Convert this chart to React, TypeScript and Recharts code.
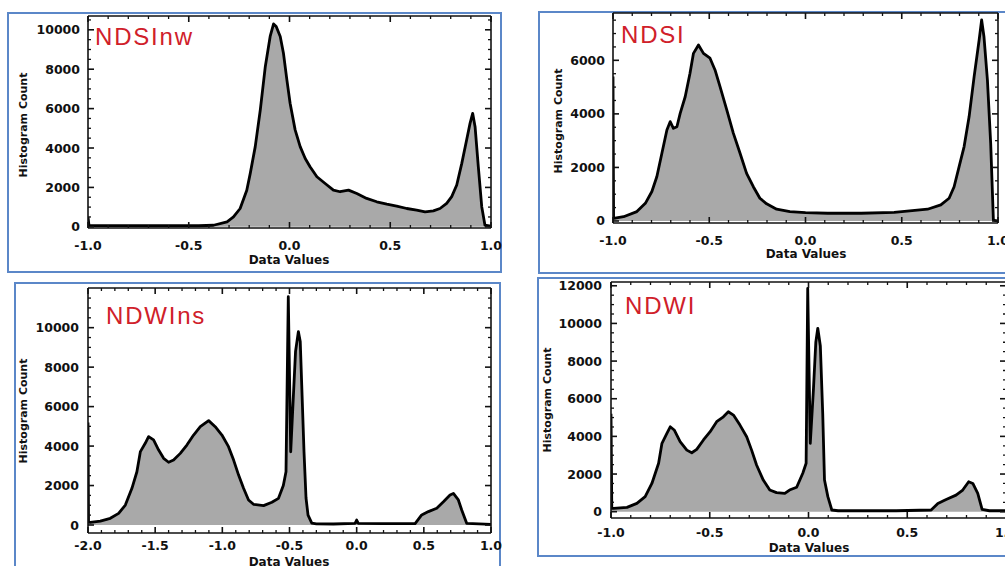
import React from 'react';
import { AreaChart, Area, XAxis, YAxis } from 'recharts';

// ---------- NDSInw ----------
const ndsinwX = [-1.0, -0.995, -0.7, -0.45, -0.377, -0.31, -0.278, -0.245, -0.212, -0.195, -0.17, -0.145, -0.12, -0.096, -0.079, -0.066, -0.046, -0.03, -0.013, 0.003, 0.028, 0.053, 0.078, 0.102, 0.136, 0.177, 0.218, 0.251, 0.293, 0.334, 0.383, 0.433, 0.483, 0.532, 0.582, 0.631, 0.673, 0.714, 0.747, 0.78, 0.805, 0.83, 0.855, 0.879, 0.896, 0.909, 0.921, 0.937, 0.954, 0.97, 1.0];
const ndsinwY = [500, 60, 55, 55, 80, 250, 500, 930, 1860, 2700, 4070, 5930, 8140, 9660, 10300, 10170, 9660, 8810, 7460, 6270, 4920, 4070, 3470, 3050, 2540, 2200, 1860, 1780, 1860, 1690, 1440, 1270, 1150, 1050, 930, 850, 760, 810, 930, 1190, 1530, 2120, 3220, 4410, 5250, 5760, 5080, 3050, 1020, 85, 30];

// ---------- NDSI ----------
const ndsiX = [-1.0, -0.997, -0.945, -0.876, -0.832, -0.798, -0.772, -0.746, -0.72, -0.703, -0.686, -0.668, -0.651, -0.625, -0.6, -0.582, -0.556, -0.53, -0.496, -0.47, -0.444, -0.409, -0.375, -0.34, -0.306, -0.271, -0.237, -0.202, -0.15, -0.081, 0.0, 0.116, 0.289, 0.461, 0.634, 0.703, 0.746, 0.772, 0.798, 0.824, 0.85, 0.876, 0.902, 0.915, 0.927, 0.945, 0.962, 0.976, 0.988, 1.0];
const ndsiY = [5400, 100, 160, 350, 660, 1100, 1660, 2530, 3400, 3710, 3460, 3520, 4020, 4640, 5520, 6260, 6570, 6260, 6080, 5640, 5020, 4150, 3280, 2530, 1780, 1280, 850, 640, 440, 350, 310, 290, 290, 320, 440, 600, 850, 1280, 2030, 2780, 3900, 5390, 6760, 7510, 6890, 5270, 2900, 40, 10, 0];

// ---------- NDWIns ----------
const ndwinsX = [-2.0, -1.996, -1.983, -1.908, -1.834, -1.772, -1.722, -1.673, -1.636, -1.61, -1.574, -1.549, -1.512, -1.474, -1.437, -1.4, -1.363, -1.313, -1.264, -1.214, -1.164, -1.102, -1.053, -1.003, -0.954, -0.916, -0.879, -0.842, -0.805, -0.768, -0.693, -0.631, -0.582, -0.546, -0.526, -0.509, -0.491, -0.475, -0.455, -0.434, -0.42, -0.409, -0.392, -0.377, -0.362, -0.334, -0.3, -0.173, -0.012, 0.0, 0.012, 0.2, 0.435, 0.484, 0.534, 0.596, 0.646, 0.695, 0.72, 0.757, 0.782, 0.819, 1.0];
const ndwinsY = [5200, 150, 135, 200, 340, 590, 1010, 1860, 2700, 3720, 4140, 4480, 4310, 3800, 3380, 3180, 3290, 3630, 4050, 4560, 4980, 5290, 4980, 4560, 3970, 3290, 2530, 1860, 1270, 1050, 980, 1150, 1350, 2000, 2700, 11570, 3710, 6000, 8800, 9800, 9300, 7100, 3710, 1370, 500, 100, 60, 50, 85, 250, 85, 70, 70, 510, 680, 850, 1180, 1520, 1600, 1270, 760, 85, 35];

// ---------- NDWI ----------
const ndwiX = [-1.0, -0.996, -0.987, -0.919, -0.869, -0.827, -0.793, -0.759, -0.742, -0.717, -0.7, -0.68, -0.65, -0.616, -0.591, -0.566, -0.532, -0.498, -0.465, -0.431, -0.406, -0.38, -0.347, -0.313, -0.288, -0.263, -0.229, -0.196, -0.162, -0.12, -0.096, -0.06, -0.029, -0.012, -0.004, 0.009, 0.025, 0.037, 0.047, 0.06, 0.072, 0.081, 0.098, 0.118, 0.15, 0.276, 0.444, 0.621, 0.655, 0.697, 0.747, 0.781, 0.811, 0.832, 0.857, 0.879, 0.916, 1.0];
const ndwiY = [5200, 180, 180, 230, 440, 800, 1500, 2570, 3630, 4160, 4510, 4340, 3720, 3270, 3130, 3310, 3810, 4250, 4780, 5040, 5310, 5130, 4600, 3980, 3270, 2480, 1680, 1150, 1010, 970, 1150, 1300, 2040, 2570, 11860, 3630, 6500, 9000, 9740, 8800, 5230, 1680, 800, 90, 50, 50, 50, 90, 440, 650, 880, 1150, 1590, 1500, 970, 120, 50, 50];

// ---------- tick labels ----------
const xMajor1 = [-1.0, -0.5, 0.0, 0.5, 1.0];
const xMajor3 = [-2.0, -1.5, -1.0, -0.5, 0.0, 0.5, 1.0];
const yMajor10k = [0, 2000, 4000, 6000, 8000, 10000];
const yMajor6k = [0, 2000, 4000, 6000];
const yMajor12k = [0, 2000, 4000, 6000, 8000, 10000, 12000];

const titles = ['NDSInw', 'NDSI', 'NDWIns', 'NDWI'];

const steps = (a: number, b: number, s: number) => {
  const out: number[] = [];
  const n = Math.round((b - a) / s);
  for (let i = 0; i <= n; i++) out.push(Math.round((a + i * s) * 1000) / 1000);
  return out;
};

const build = (xs: number[], ys: number[]) => {
  const n = Math.min(xs.length, ys.length);
  const d: { x: number; y: number }[] = [];
  for (let i = 0; i < n; i++) d.push({ x: xs[i], y: ys[i] });
  return d;
};

const TICK_FONT = '"DejaVu Sans", Verdana, sans-serif';
const BORDER = '#5b87c8';

type Side = 'left' | 'right' | 'top' | 'bottom';

const makeTick = (side: Side, majors: number[], labelOffset: number, showLabel: boolean) => (props: any) => {
  const { x, y, payload } = props;
  const v = Number(payload.value);
  const major = majors.some((m) => Math.abs(m - v) < 1e-6);
  const len = major ? 6 : 3;
  let x2 = x;
  let y2 = y;
  if (side === 'left') x2 = x + len;
  else if (side === 'right') x2 = x - len;
  else if (side === 'top') y2 = y + len;
  else y2 = y - len;
  let label = null;
  if (showLabel && major) {
    if (side === 'left') {
      label = (
        <text x={x - labelOffset} y={y} dy="0.36em" textAnchor="end" fontFamily={TICK_FONT} fontWeight="bold" fontSize={12.5} fill="#111">
          {String(v)}
        </text>
      );
    } else {
      label = (
        <text x={x} y={y + labelOffset} dy="0.36em" textAnchor="middle" fontFamily={TICK_FONT} fontWeight="bold" fontSize={12.5} fill="#111">
          {v.toFixed(1)}
        </text>
      );
    }
  }
  return (
    <g>
      <line x1={x} y1={y} x2={x2} y2={y2} stroke="#111" strokeWidth={major ? 1.6 : 1.3} />
      {label}
    </g>
  );
};

type PanelProps = {
  data: { x: number; y: number }[];
  pl: number; pt: number; pr: number; pb: number;
  xDomain: [number, number];
  yDomain: [number, number];
  xMajor: number[];
  xTicks: number[];
  yMajor: number[];
  yTicks: number[];
  xLabOff: number;
  yLabOff: number;
};

const Panel = (p: PanelProps) => {
  const x0 = p.pl - 80;
  const y0 = p.pt - 10;
  const W = p.pr - p.pl + 100;
  const H = p.pb - p.pt + 50;
  const axisLine = { stroke: '#111', strokeWidth: 1.6 };
  return (
    <div style={{ position: 'absolute', left: x0, top: y0, width: W, height: H }}>
      <AreaChart width={W} height={H} data={p.data} margin={{ top: 9, right: 19, bottom: 20, left: 40 }}>
        <XAxis xAxisId="t" orientation="top" type="number" dataKey="x" domain={p.xDomain} allowDataOverflow ticks={p.xTicks} interval={0} height={1} tickSize={0} tickMargin={0} tickLine={false} axisLine={axisLine} tick={makeTick('top', p.xMajor, 0, false)} />
        <XAxis xAxisId="b" orientation="bottom" type="number" dataKey="x" domain={p.xDomain} allowDataOverflow ticks={p.xTicks} interval={0} height={20} tickSize={0} tickMargin={0} tickLine={false} axisLine={axisLine} tick={makeTick('bottom', p.xMajor, p.xLabOff, true)} />
        <YAxis yAxisId="l" orientation="left" type="number" domain={p.yDomain} allowDataOverflow ticks={p.yTicks} interval={0} width={40} tickSize={0} tickMargin={0} tickLine={false} axisLine={axisLine} tick={makeTick('left', p.yMajor, p.yLabOff, true)} />
        <YAxis yAxisId="r" orientation="right" type="number" domain={p.yDomain} allowDataOverflow ticks={p.yTicks} interval={0} width={1} tickSize={0} tickMargin={0} tickLine={false} axisLine={axisLine} tick={makeTick('right', p.yMajor, 0, false)} />
        <Area xAxisId="b" yAxisId="l" type="linear" dataKey="y" stroke="#000" strokeWidth={2.8} strokeLinejoin="round" fill="#a9a9a9" fillOpacity={1} dot={false} activeDot={false} isAnimationActive={false} />
      </AreaChart>
    </div>
  );
};

const Box = ({ l, t, r, b }: { l: number; t: number; r: number; b: number }) => (
  <div style={{ position: 'absolute', left: l, top: t, width: r - l, height: b - t, border: `2px solid ${BORDER}`, boxSizing: 'border-box' }} />
);

const Title = ({ text, left, baseline }: { text: string; left: number; baseline: number }) => (
  <div style={{ position: 'absolute', left, top: baseline - 20.3, fontFamily: '"Liberation Sans", Arial, sans-serif', fontSize: 24, lineHeight: '24px', color: '#d0202a', letterSpacing: 1.8, whiteSpace: 'nowrap' }}>
    {text}
  </div>
);

const XTitle = ({ cx, cy }: { cx: number; cy: number }) => (
  <div style={{ position: 'absolute', left: cx, top: cy, transform: 'translate(-50%, -50%)', fontFamily: TICK_FONT, fontWeight: 'bold', fontSize: 12, lineHeight: '14px', color: '#111', whiteSpace: 'nowrap' }}>
    Data Values
  </div>
);

const YTitle = ({ cx, cy }: { cx: number; cy: number }) => (
  <div style={{ position: 'absolute', left: cx, top: cy, transform: 'translate(-50%, -50%) rotate(-90deg)', fontFamily: TICK_FONT, fontWeight: 'bold', fontSize: 11, lineHeight: '13px', color: '#111', whiteSpace: 'nowrap' }}>
    Histogram Count
  </div>
);

export default function App() {
  return (
    <div style={{ position: 'absolute', left: 0, top: 0, width: 1005, height: 566, overflow: 'hidden', background: '#fff' }}>
      <Box l={7} t={12} r={502} b={273} />
      <Box l={538} t={11} r={1015} b={274} />
      <Box l={14} t={282} r={501} b={590} />
      <Box l={537} t={277} r={1015} b={557} />

      <Panel data={build(ndsinwX, ndsinwY)} pl={88} pt={16} pr={491} pb={228}
        xDomain={[-1, 1]} yDomain={[-60, 10700]} xMajor={xMajor1} xTicks={steps(-1, 1, 0.1)}
        yMajor={yMajor10k} yTicks={steps(0, 10500, 500)} xLabOff={17} yLabOff={8} />
      <Panel data={build(ndsiX, ndsiY)} pl={613} pt={13} pr={998} pb={223}
        xDomain={[-1, 1]} yDomain={[-75, 7767]} xMajor={xMajor1} xTicks={steps(-1, 1, 0.1)}
        yMajor={yMajor6k} yTicks={steps(0, 7500, 500)} xLabOff={17} yLabOff={8} />
      <Panel data={build(ndwinsX, ndwinsY)} pl={88} pt={288} pr={491} pb={533}
        xDomain={[-2, 1]} yDomain={[-405, 12010]} xMajor={xMajor3} xTicks={steps(-2, 1, 0.1)}
        yMajor={yMajor10k} yTicks={steps(0, 11500, 500)} xLabOff={12} yLabOff={9} />
      <Panel data={build(ndwiX, ndwiY)} pl={611} pt={282} pr={1006} pb={518}
        xDomain={[-1, 1]} yDomain={[-335, 12200]} xMajor={xMajor1} xTicks={steps(-1, 1, 0.1)}
        yMajor={yMajor12k} yTicks={steps(0, 12000, 500)} xLabOff={14} yLabOff={9} />

      <Title text={titles[0]} left={95} baseline={45} />
      <Title text={titles[1]} left={621} baseline={43} />
      <Title text={titles[2]} left={106} baseline={324} />
      <Title text={titles[3]} left={625} baseline={314} />

      <XTitle cx={289} cy={260} />
      <XTitle cx={806} cy={254} />
      <XTitle cx={289} cy={562} />
      <XTitle cx={809} cy={548} />

      <YTitle cx={23} cy={125} />
      <YTitle cx={558} cy={121} />
      <YTitle cx={23} cy={411} />
      <YTitle cx={547} cy={400} />
    </div>
  );
}
